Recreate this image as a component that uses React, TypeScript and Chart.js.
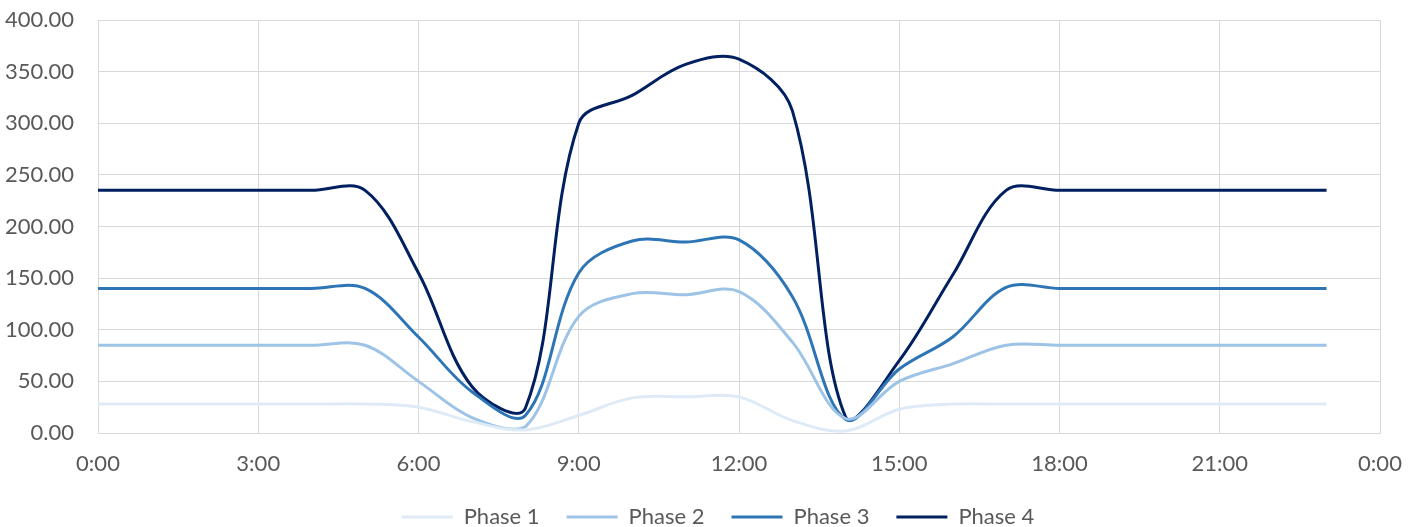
import { useEffect, useRef } from 'react';
import { Chart, registerables } from 'chart.js';

Chart.register(...registerables);

const hours = [0, 1, 2, 3, 4, 5, 6, 7, 8, 9, 10, 11, 12, 13, 14, 15, 16, 17, 18, 19, 20, 21, 22, 23];
const xTickLabels = ['0:00', '3:00', '6:00', '9:00', '12:00', '15:00', '18:00', '21:00', '0:00'];
const seriesNames = ['Phase 1', 'Phase 2', 'Phase 3', 'Phase 4'];
const phase1 = [28, 28, 28, 28, 28, 28, 25, 11, 3, 17, 34, 35, 35, 12, 2, 23, 28, 28, 28, 28, 28, 28, 28, 28];
const phase2 = [85, 85, 85, 85, 85, 85, 50, 15, 6, 113, 135, 134, 137, 88, 14, 50, 67, 85, 85, 85, 85, 85, 85, 85];
const phase3 = [140, 140, 140, 140, 140, 140, 93, 40, 17, 155, 186, 185, 187, 132, 13, 62, 93, 141, 140, 140, 140, 140, 140, 140];
const phase4 = [235, 235, 235, 235, 235, 235, 155, 45, 24, 300, 327, 357, 362, 312, 15, 70, 153, 235, 235, 235, 235, 235, 235, 235];
const colors = ['#DEEBF7', '#9DC3E6', '#2E75B6', '#002060'];

const FONT = { family: 'Lato', size: 22 };
const TEXT = '#595959';
const GRID = '#D9D9D9';

const legendShift = {
  id: 'legendShift',
  afterLayout(chart: any) {
    const lg = chart.legend;
    if (!lg) return;
    lg.left += 56;
  },
};

export default function App() {
  const ref = useRef<HTMLCanvasElement>(null);
  useEffect(() => {
    document.body.style.margin = '0';
    const all = [phase1, phase2, phase3, phase4];
    const chart = new Chart(ref.current!, {
      type: 'line',
      data: {
        datasets: all.map((vals, i) => ({
          label: seriesNames[i],
          data: hours.map((h, j) => ({ x: h, y: vals[j] })),
          borderColor: colors[i],
          backgroundColor: colors[i],
          borderWidth: 3,
          pointRadius: 0,
          fill: false,
          tension: 0.35,
        })),
      },
      options: {
        animation: false,
        responsive: false,
        devicePixelRatio: 1,
        layout: { padding: { left: 0, right: 38, top: 20, bottom: -11 } },
        plugins: {
          tooltip: { enabled: false },
          legend: {
            position: 'bottom',
            labels: {
              usePointStyle: true,
              pointStyle: 'line',
              pointStyleWidth: 51,
              padding: 27,
              font: FONT,
              color: TEXT,
            },
          },
        },
        scales: {
          x: {
            type: 'linear',
            min: 0,
            max: 24,
            afterFit: (s: any) => {
              s.height = 46;
              s.paddingLeft = 0;
              s.paddingRight = 0;
            },
            ticks: {
              stepSize: 3,
              autoSkip: false,
              maxRotation: 0,
              padding: 18,
              font: FONT,
              color: TEXT,
              callback: (_v: any, i: number) => xTickLabels[i],
            },
            grid: { color: GRID, drawTicks: false },
            border: { color: GRID },
          },
          y: {
            min: 0,
            max: 400,
            afterFit: (s: any) => {
              s.width = 98;
              s.paddingTop = 0;
              s.paddingBottom = 0;
            },
            ticks: {
              stepSize: 50,
              padding: 24,
              font: FONT,
              color: TEXT,
              callback: (v: any) => Number(v).toFixed(2),
            },
            grid: { color: GRID, drawTicks: false },
            border: { color: GRID },
          },
        },
      },
      plugins: [legendShift],
    });
    return () => chart.destroy();
  }, []);
  return (
    <div style={{ width: 1418, height: 527 }}>
      <canvas ref={ref} width={1418} height={527} style={{ display: 'block' }} />
    </div>
  );
}
